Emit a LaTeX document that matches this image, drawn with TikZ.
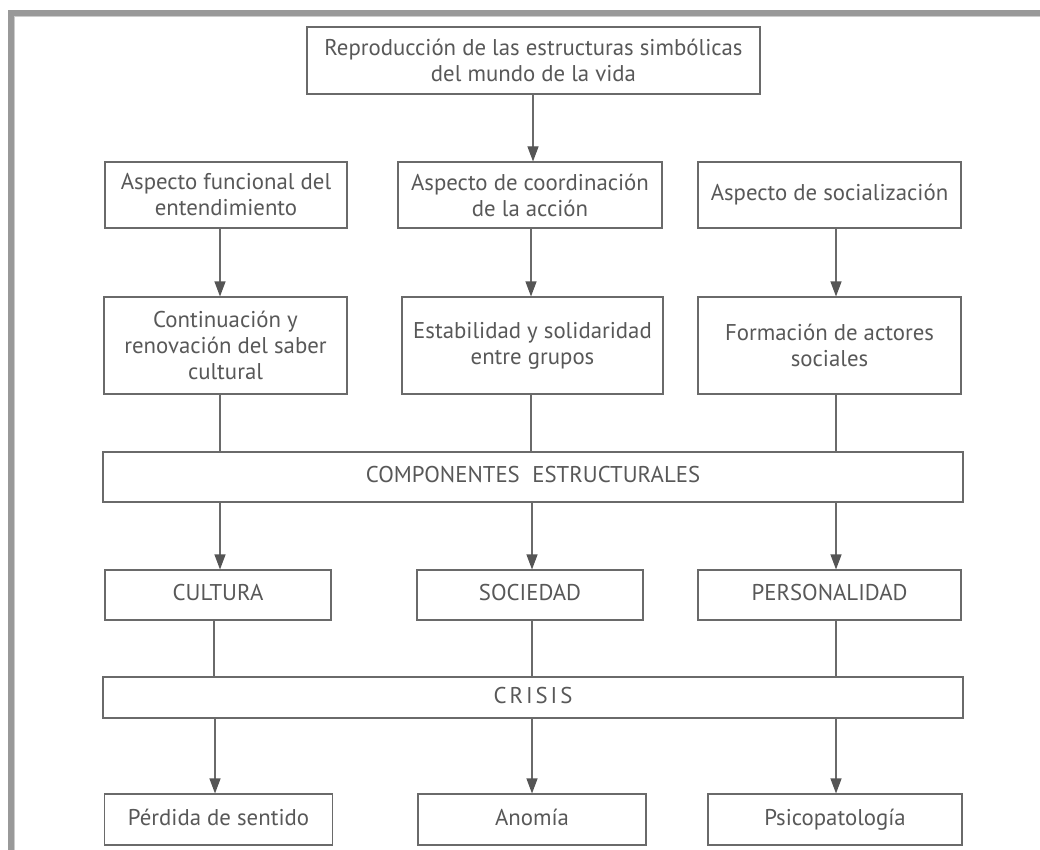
\documentclass[tikz,border=0pt]{standalone}
\usepackage{fontspec}
\setmainfont{PT Sans}
\usetikzlibrary{arrows.meta}
\definecolor{framegray}{HTML}{999999}
\definecolor{framelight}{HTML}{CCCCCC}
\definecolor{boxline}{HTML}{6A6A6A}
\definecolor{txtgray}{HTML}{585858}
\definecolor{arrgray}{HTML}{555555}
\tikzset{
  box/.style={draw=boxline, line width=1.1pt, fill=white, inner sep=0pt, align=center,
    text=txtgray, font=\fontsize{22.8}{26}\selectfont},
  onebox/.style={box, text height=16pt, text depth=5pt},
  conn/.style={draw=boxline, line width=1.1pt},
  arr/.style={conn, -{Triangle[width=11pt,length=15pt,fill=arrgray,color=arrgray]}},
}
\begin{document}
\begin{tikzpicture}[x=1pt,y=-1pt]
\useasboundingbox (0,0) rectangle (1040,850);
% frame
\fill[framegray] (8,10) rectangle (1040,16);
\fill[framelight] (14,16) rectangle (1040,17);
\fill[framegray] (8,10) rectangle (14,850);
\fill[framelight] (14,16) rectangle (15,850);
% column coordinates
\coordinate (k0) at (533,0);
\coordinate (k1) at (220,0);
\coordinate (k2) at (531,0);
\coordinate (k3) at (836,0);
\coordinate (m1) at (220,0);
\coordinate (m2) at (532,0);
\coordinate (m3) at (836,0);
\coordinate (p1) at (214,0);
\coordinate (p2) at (532,0);
\coordinate (p3) at (836,0);
\coordinate (n1) at (215,0);
\coordinate (n2) at (532,0);
\coordinate (n3) at (836,0);
% nodes
\node[box, minimum width=453pt, minimum height=67pt] (top) at (533.5,60.5)
  {Reproducción de las estructuras simbólicas\\del mundo de la vida};
\node[box, minimum width=242pt, minimum height=66pt] (a1) at (226,195)
  {Aspecto funcional del\\entendimiento};
\node[box, minimum width=264pt, minimum height=66pt] (a2) at (530,195)
  {Aspecto de coordinación\\de la acción};
\node[onebox, minimum width=263pt, minimum height=66pt] (a3) at (829.5,195)
  {Aspecto de socialización};
\node[box, minimum width=243pt, minimum height=97pt] (b1) at (225.5,345.5)
  {Continuación y\\renovación del saber\\cultural};
\node[box, minimum width=261pt, minimum height=97pt] (b2) at (532.5,345.5)
  {Estabilidad y solidaridad\\entre grupos};
\node[box, minimum width=263pt, minimum height=97pt] (b3) at (829.5,345.5)
  {Formación de actores\\sociales};
\node[onebox, minimum width=860pt, minimum height=50pt] (comp) at (533,477)
  {COMPONENTES\hspace{0.55em}ESTRUCTURALES};
\node[onebox, minimum width=226pt, minimum height=50pt] (c1) at (218,595) {CULTURA};
\node[onebox, minimum width=226pt, minimum height=50pt] (c2) at (530,595) {SOCIEDAD};
\node[onebox, minimum width=263pt, minimum height=50pt] (c3) at (829.5,595) {PERSONALIDAD};
\node[onebox, minimum width=860pt, minimum height=41pt] (crisis) at (533,697.5)
  {\addfontfeature{LetterSpace=13}CRISIS};
\node[onebox, minimum width=228pt, minimum height=51pt] (d1) at (218.5,819.5) {Pérdida de sentido};
\node[onebox, minimum width=228pt, minimum height=51pt] (d2) at (532,819.5) {Anomía};
\node[onebox, minimum width=254pt, minimum height=51pt] (d3) at (835,819.5) {Psicopatología};
% connectors
\draw[arr] (top.south -| k0) -- (a2.north -| k0);
\draw[arr] (a1.south -| k1) -- (b1.north -| k1);
\draw[arr] (a2.south -| k2) -- (b2.north -| k2);
\draw[arr] (a3.south -| k3) -- (b3.north -| k3);
\draw[conn] (b1.south -| k1) -- (comp.north -| k1);
\draw[conn] (b2.south -| k2) -- (comp.north -| k2);
\draw[conn] (b3.south -| k3) -- (comp.north -| k3);
\draw[arr] (comp.south -| m1) -- (c1.north -| m1);
\draw[arr] (comp.south -| m2) -- (c2.north -| m2);
\draw[arr] (comp.south -| m3) -- (c3.north -| m3);
\draw[conn] (c1.south -| p1) -- (crisis.north -| p1);
\draw[conn] (c2.south -| p2) -- (crisis.north -| p2);
\draw[conn] (c3.south -| p3) -- (crisis.north -| p3);
\draw[arr] (crisis.south -| n1) -- (d1.north -| n1);
\draw[arr] (crisis.south -| n2) -- (d2.north -| n2);
\draw[arr] (crisis.south -| n3) -- (d3.north -| n3);
\end{tikzpicture}
\end{document}
